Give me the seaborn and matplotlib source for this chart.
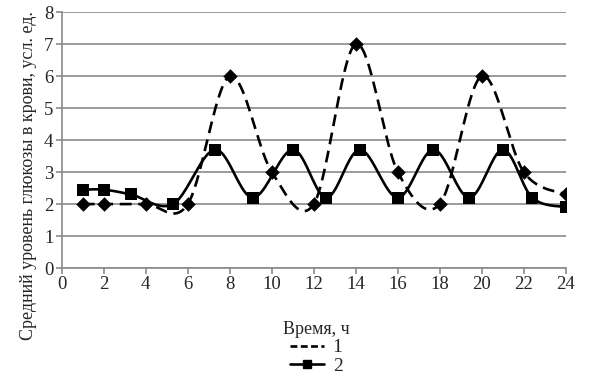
import numpy as np
import pandas as pd
import matplotlib
matplotlib.use("Agg")
import matplotlib.pyplot as plt
from matplotlib.lines import Line2D
import seaborn as sns

# Data
x1 = [1, 2, 4, 6, 8, 10, 12, 14, 16, 18, 20, 22, 24]
y1 = [2.0, 2.0, 2.0, 2.0, 6.0, 3.0, 2.0, 7.0, 3.0, 2.0, 6.0, 3.0, 2.3]
x2 = [1, 2, 3.3, 5.3, 7.3, 9.1, 11.0, 12.6, 14.2, 16.0, 17.7, 19.4, 21.0, 22.4, 24.0]
y2 = [2.45, 2.45, 2.3, 2.0, 3.7, 2.2, 3.7, 2.2, 3.7, 2.2, 3.7, 2.2, 3.7, 2.2, 1.9]
series_labels = ["1", "2"]
x_ticks = list(range(0, 25, 2))
y_ticks = list(range(0, 9))
xlabel = "Время, ч"
ylabel = "Средний уровень глюкозы в крови, усл. ед."


def smooth(xs, ys, n=40):
    """Excel-like smoothed line (Catmull-Rom Bezier) through the data points."""
    P = np.column_stack([xs, ys]).astype(float)
    P = np.vstack([P[0], P, P[-1]])
    out = []
    t = np.linspace(0, 1, n)[:, None]
    for i in range(1, len(P) - 2):
        p0, p1, p2, p3 = P[i - 1], P[i], P[i + 1], P[i + 2]
        c1 = p1 + (p2 - p0) / 6.0
        c2 = p2 - (p3 - p1) / 6.0
        seg = ((1 - t) ** 3) * p1 + 3 * ((1 - t) ** 2) * t * c1 + 3 * (1 - t) * t ** 2 * c2 + t ** 3 * p2
        out.append(seg if i == 1 else seg[1:])
    s = np.vstack(out)
    return s[:, 0], s[:, 1]


sns.set_style("white")
plt.rcParams["font.family"] = ["Liberation Serif", "DejaVu Serif"]

fig = plt.figure(figsize=(6.0, 3.77), dpi=100)
ax = fig.add_axes([0.103, 0.289, 0.840, 0.679])

sx1, sy1 = smooth(x1, y1)
sx2, sy2 = smooth(x2, y2)
df_s1 = pd.DataFrame({"x": sx1, "y": sy1})
df_s2 = pd.DataFrame({"x": sx2, "y": sy2})

sns.lineplot(data=df_s1, x="x", y="y", sort=False, estimator=None, ax=ax,
             color="black", lw=1.9, linestyle=(0, (4.5, 2.5)), zorder=3)
sns.lineplot(data=df_s2, x="x", y="y", sort=False, estimator=None, ax=ax,
             color="black", lw=1.9, zorder=3)
sns.scatterplot(x=x1, y=y1, ax=ax, marker="D", s=55, color="black",
                edgecolor="black", linewidth=0, zorder=4)
sns.scatterplot(x=x2, y=y2, ax=ax, marker="s", s=85, color="black",
                edgecolor="black", linewidth=0, zorder=5)

ax.set_xlim(0, 24)
ax.set_ylim(0, 8)
ax.set_xticks(x_ticks)
ax.set_yticks(y_ticks)
ax.yaxis.grid(True, color="#8a8a8a", lw=1.2)
ax.xaxis.grid(False)
for side in ["top", "right"]:
    ax.spines[side].set_visible(False)
for side in ["left", "bottom"]:
    ax.spines[side].set_color("#8a8a8a")
    ax.spines[side].set_linewidth(1.2)
ax.tick_params(axis="both", which="both", length=4, width=1.2, color="#8a8a8a",
               labelsize=13.5, pad=2, direction="out")
ax.tick_params(axis="x", bottom=True)
ax.tick_params(axis="y", left=True)
ax.set_xlabel("")
ax.set_ylabel("")

fig.text(0.047, 0.533, ylabel, rotation=90, ha="center", va="center", fontsize=13)

handles = [
    Line2D([], [], color="black", lw=1.9, linestyle=(0, (2.6, 1.3))),
    Line2D([], [], color="black", lw=1.9, marker="s", markersize=6),
]
leg = fig.legend(handles, series_labels, title=xlabel, loc="upper center",
                 frameon=False, fontsize=14, title_fontsize=13,
                 handlelength=1.75, handletextpad=0.45,
                 labelspacing=0.05, borderpad=0.0)
leg.set_bbox_to_anchor((0.527, 0.175), transform=fig.transFigure)

fig.savefig("out.png", dpi=100)
